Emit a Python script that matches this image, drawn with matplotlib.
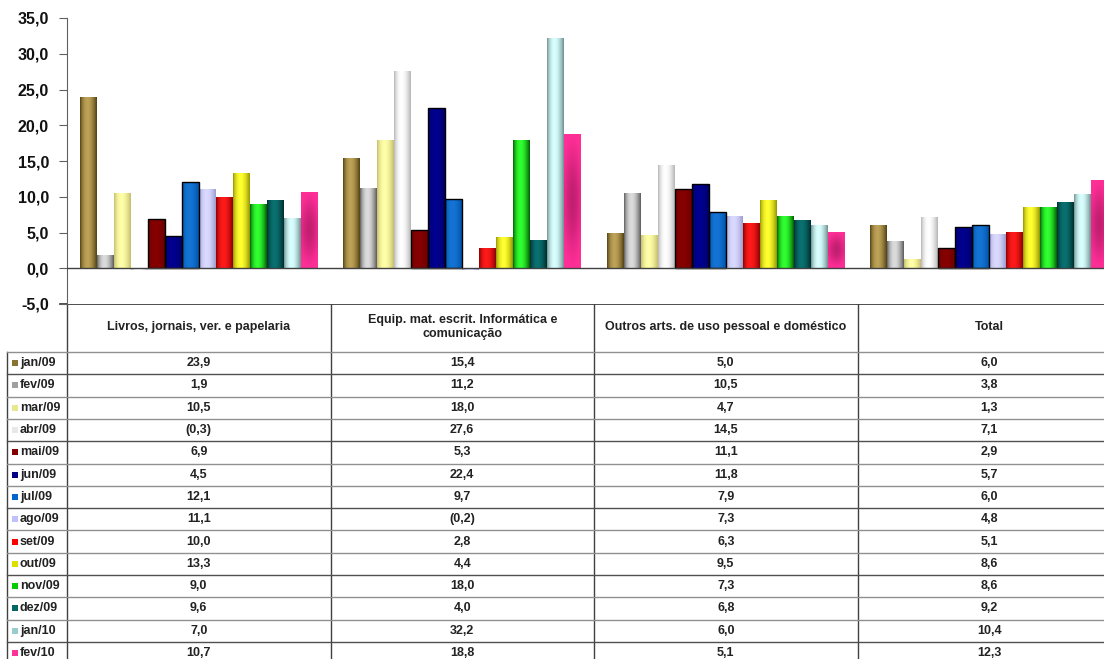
import numpy as np
import matplotlib
matplotlib.use("Agg")
import matplotlib.pyplot as plt
from matplotlib.colors import to_rgb
from matplotlib.patches import Rectangle

plt.rcParams['font.family'] = ['Liberation Sans', 'DejaVu Sans']

# dados
meses = ["jan/09", "fev/09", "mar/09", "abr/09", "mai/09", "jun/09", "jul/09",
         "ago/09", "set/09", "out/09", "nov/09", "dez/09", "jan/10", "fev/10"]
categorias = ["Livros, jornais, ver. e papelaria",
              "Equip. mat. escrit. Informática e\ncomunicação",
              "Outros arts. de uso pessoal e doméstico",
              "Total"]
livros = [23.9, 1.9, 10.5, -0.3, 6.9, 4.5, 12.1, 11.1, 10.0, 13.3, 9.0, 9.6, 7.0, 10.7]
equip = [15.4, 11.2, 18.0, 27.6, 5.3, 22.4, 9.7, -0.2, 2.8, 4.4, 18.0, 4.0, 32.2, 18.8]
outros = [5.0, 10.5, 4.7, 14.5, 11.1, 11.8, 7.9, 7.3, 6.3, 9.5, 7.3, 6.8, 6.0, 5.1]
total = [6.0, 3.8, 1.3, 7.1, 2.9, 5.7, 6.0, 4.8, 5.1, 8.6, 8.6, 9.2, 10.4, 12.3]
yticks = [-5, 0, 5, 10, 15, 20, 25, 30, 35]

# cores (borda escura, centro claro, legenda)
escuro = ['#4f3f12', '#5a5a5a', '#c4bc6c', '#b4b4b4', '#6a0000', '#00006a', '#0052a8',
          '#9a9ad0', '#8a0000', '#949400', '#005a00', '#002c2c', '#6e8e8e', '#ff2f98']
claro = ['#bda257', '#dcdcdc', '#ffffa8', '#ffffff', '#860000', '#000090', '#1474d4',
         '#dadaff', '#ff1a1a', '#ffff30', '#30ff30', '#0a7070', '#d8ffff', '#c21f70']
legenda = ['#8a7332', '#a0a0a0', '#e8e890', '#e8e8e8', '#800000', '#000080', '#0066cc',
           '#c0c0ff', '#ff0000', '#e0e000', '#00cc00', '#006666', '#99cccc', '#ff3399']
com_borda = {4, 5, 6}

valores = np.array([livros, equip, outros, total])  # [categoria, mes]
n_cat, n_mes = valores.shape

W, H = 1104, 659
fig = plt.figure(figsize=(W / 100, H / 100), dpi=100)

ax_left, ax_right = 67, 1104
y_top, y_bot = 18, 304
ax = fig.add_axes([ax_left / W, (H - y_bot) / H, (ax_right - ax_left) / W, (y_bot - y_top) / H])

grupo_px = 263.5
bw = 1 / 15.5
x = np.arange(n_cat)


def gradiente(c0, c1, radial=False):
    c0, c1 = np.array(to_rgb(c0)), np.array(to_rgb(c1))
    t = np.linspace(0, 1, 64)
    if radial:
        # mancha escura no meio da barra
        tx, ty = np.meshgrid(t, np.linspace(0, 1, 128))
        r = np.clip(np.hypot((tx - 0.5) * 1.4, (ty - 0.5) * 1.9), 0, 1)
        s = np.cos(np.pi * r / 2) ** 1.5
        return c0 + (c1 - c0) * s[..., None]
    s = np.sin(np.pi * t ** 0.85) ** 0.9
    return (c0 + (c1 - c0) * s[:, None])[None, :, :]


for k in range(n_mes):
    off = (k - (n_mes - 1) / 2) * bw
    barras = ax.bar(x + off, valores[:, k], bw, color='none',
                    edgecolor='black' if k in com_borda else 'none',
                    linewidth=1.0, zorder=3)
    img = gradiente(escuro[k], claro[k], radial=(k == n_mes - 1))
    for b in barras:
        x0, y0 = b.get_x(), b.get_y()
        x1, y1 = x0 + b.get_width(), y0 + b.get_height()
        im = ax.imshow(img, extent=(x0, x1, min(y0, y1), max(y0, y1)),
                       aspect='auto', interpolation='bilinear', zorder=2)
        im.set_clip_path(b)

ax.set_xlim(-0.5, -0.5 + (ax_right - ax_left) / grupo_px)
ax.set_ylim(-5, 35)
ax.axhline(0, color='#404040', lw=1.0, zorder=4)
for s in ['top', 'right', 'bottom']:
    ax.spines[s].set_visible(False)
ax.spines['left'].set_color('#606060')
ax.set_xticks([])
ax.set_yticks(yticks)
ax.set_yticklabels([f"{v:.1f}".replace('.', ',') for v in yticks],
                   fontsize=11.5, fontweight='bold', color='#111111')
ax.tick_params(axis='y', length=6, color='#606060', pad=7)

# tabela de dados
tb = fig.add_axes([0, 0, 1, 1], zorder=-1)
tb.set_xlim(0, W)
tb.set_ylim(H, 0)
tb.axis('off')

col_x = [ax_left + i * grupo_px for i in range(n_cat + 1)]
head_bot = 352
row_h = 22.3
fs = 9

tb.plot([60, W], [y_bot, y_bot], color='#303030', lw=1.2)
for cx in col_x[:-1]:
    tb.plot([cx, cx], [y_bot, H], color='#404040', lw=1.0)
tb.plot([7, 7], [head_bot, H], color='#404040', lw=1.0)
tb.plot([7, W], [head_bot, head_bot], color='#909090', lw=1.0)

for i, nome in enumerate(categorias):
    tb.text((col_x[i] + col_x[i + 1]) / 2, (y_bot + head_bot) / 2 - 1, nome,
            ha='center', va='center', fontsize=fs, fontweight='bold',
            color='#222222', linespacing=1.15)


def fmt(v):
    s = f"{abs(v):.1f}".replace('.', ',')
    return f"({s})" if v < 0 else s


for k, mes in enumerate(meses):
    yt = head_bot + k * row_h
    yc = yt + row_h / 2
    tb.plot([7, W], [yt + row_h, yt + row_h], color='#909090' if k % 3 else '#505050', lw=1.0)
    tb.add_patch(Rectangle((12, yc - 3), 6, 6, facecolor=legenda[k], edgecolor='none'))
    tb.text(20, yc, mes, ha='left', va='center', fontsize=fs, fontweight='bold', color='#222222')
    for i in range(n_cat):
        tb.text((col_x[i] + col_x[i + 1]) / 2, yc, fmt(valores[i, k]),
                ha='center', va='center', fontsize=fs, fontweight='bold', color='#222222')

fig.savefig("out.png", dpi=100, facecolor='white')
